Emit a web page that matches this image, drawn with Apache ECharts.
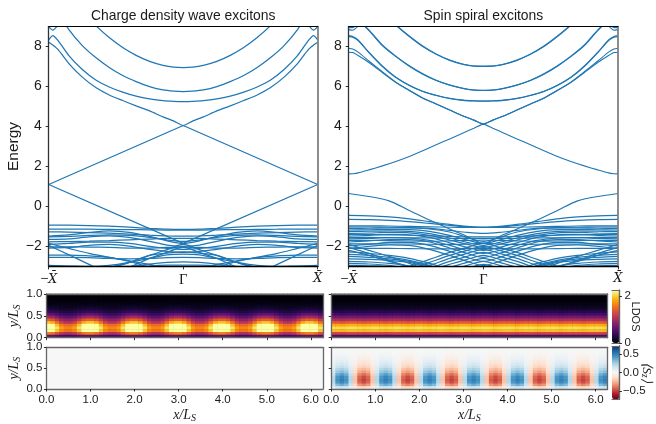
<!DOCTYPE html>
<html><head><meta charset="utf-8">
<style>html,body{margin:0;padding:0;background:#fff}#c{width:656px;height:424px}</style>
<script src="https://cdn.jsdelivr.net/npm/echarts@6/dist/echarts.min.js"></script>
</head><body><div id="c"></div>
<script>
// ---------- Band structures: half of the zone, -X to Gamma; the zone is mirror symmetric
const kEnds = [-1,0];
const kHigh = [-1,-.97,-.93,-.85,-.75,-.65,-.55,-.45,-.35,-.25,-.15,-.07,0];
const kLow  = [-1,-.85,-.7,-.55,-.4,-.25,-.12,0];

const cdwLines = [[1.1,4.05],[1.1,-1.85]];
const cdwHigh = [
 [8.22,8.08,7.85,7.15,6.47,5.95,5.58,5.3,5.03,4.78,4.48,4.27,4.05],
 [8.33,8.55,8.3,7.55,6.85,6.33,5.98,5.72,5.52,5.38,5.29,5.26,5.25],
 [10,10,9.7,8.85,8.05,7.45,6.95,6.55,6.25,6,5.83,5.77,5.75],
 [12,12,12,11,9.75,9.05,8.45,7.95,7.56,7.26,7.06,6.97,6.95],
 [9,8.82,9.1,10,11,12,13,13,13,13,13,13,13]
];
const cdwLow = [
 [-.93,-.94,-.96,-.99,-1.04,-1.1,-1.14,-1.15],
 [-1.13,-1.13,-1.14,-1.15,-1.16,-1.17,-1.18,-1.18],
 [-1.27,-1.28,-1.31,-1.34,-1.39,-1.44,-1.47,-1.48],
 [-1.48,-1.42,-1.3,-1.22,-1.3,-1.5,-1.72,-1.85],
 [-1.65,-1.62,-1.52,-1.47,-1.55,-1.75,-1.93,-2],
 [-1.52,-1.5,-1.45,-1.42,-1.45,-1.55,-1.68,-1.75],
 [-1.77,-1.76,-1.74,-1.71,-1.67,-1.63,-1.6,-1.6],
 [-1.9,-1.85,-1.78,-1.78,-1.85,-2,-2.1,-2.15],
 [-2.02,-2.02,-2.03,-2.05,-2.08,-2.08,-2.05,-2.03],
 [-2.08,-2.05,-1.95,-1.9,-1.98,-2.15,-2.25,-2.3],
 [-1.95,-2.42,-2.9,-3.4,-3.9,-4.3,-4.7,-5],
 [-1.85,-2.1,-2.35,-2.55,-2.72,-2.9,-3.1,-3.3],
 [-4.3,-3.9,-3.5,-3.12,-2.8,-2.45,-2.16,-1.9],
 [-4.4,-4,-3.6,-3.3,-3.03,-2.6,-2.3,-2.05],
 [-2.43,-2.44,-2.47,-2.55,-2.75,-3.05,-3.3,-3.4],
 [-2.55,-2.55,-2.56,-2.6,-2.62,-2.6,-2.56,-2.55],
 [-2.97,-2.98,-3,-2.95,-2.8,-2.6,-2.42,-2.38],
 [-2.95,-3,-3.02,-3.02,-3,-2.97,-2.94,-2.93],
 [-3.3,-3.3,-3.2,-3.05,-2.8,-2.45,-2.33,-2.27],
 [-3.3,-3.3,-3.3,-3.2,-3.02,-2.88,-2.8,-2.77]
];
const spiralHigh = [
 [1.63,1.64,1.68,1.83,2.03,2.25,2.5,2.79,3.09,3.38,3.68,3.91,4.12],
 [7.72,7.7,7.55,7.2,6.7,6.2,5.8,5.42,5.13,4.83,4.53,4.32,4.12],
 [7.92,7.88,7.72,7.28,6.74,6.22,5.81,5.43,5.13,4.83,4.53,4.32,4.13],
 [8.5,8.47,8.3,7.7,7,6.45,6.05,5.75,5.55,5.4,5.31,5.28,5.27],
 [8.55,8.5,8.33,7.72,7.03,6.47,6.07,5.77,5.56,5.41,5.32,5.29,5.28],
 [9.5,9.4,9.3,8.8,8.05,7.5,7.02,6.62,6.3,6.07,5.9,5.82,5.8],
 [9.55,9.45,9.33,8.84,8.08,7.52,7.04,6.64,6.32,6.08,5.91,5.83,5.81],
 [12,12,12,11,9.8,9.07,8.5,8,7.61,7.31,7.11,7.02,7],
 [12,12,12,11,9.83,9.1,8.53,8.03,7.63,7.33,7.12,7.03,7.02],
 [8.85,8.82,9.05,10,11,12,13,13,13,13,13,13,13],
 [8.95,8.95,9.2,10,11,12,13,13,13,13,13,13,13]
];
const spiralLow = [
 [.65,.5,.28,-.2,-.68,-1.13,-1.5,-1.85],
 [-.45,-.47,-.52,-.62,-.76,-.9,-1,-1.05],
 [-.65,-.66,-.7,-.76,-.85,-.95,-1.02,-1.05],
 [-.97,-.97,-.98,-1,-1.02,-1.04,-1.05,-1.05],
 [-1.03,-1.03,-1.04,-1.06,-1.1,-1.2,-1.3,-1.35],
 [-1.1,-1.09,-1.08,-1.08,-1.13,-1.28,-1.55,-1.75],
 [-1.18,-1.17,-1.15,-1.16,-1.25,-1.45,-1.68,-1.85],
 [-1.25,-1.24,-1.22,-1.25,-1.36,-1.58,-1.8,-1.95],
 [-1.35,-1.33,-1.3,-1.32,-1.45,-1.68,-1.9,-2.05],
 [-1.48,-1.45,-1.4,-1.42,-1.55,-1.82,-2.05,-2.2],
 [-1.62,-1.6,-1.56,-1.58,-1.7,-1.95,-2.2,-2.35],
 [-1.78,-1.72,-1.66,-1.66,-1.78,-2.08,-2.35,-2.55],
 [-1.97,-1.9,-1.8,-1.8,-1.95,-2.25,-2.55,-2.75],
 [-2.1,-2,-1.92,-1.95,-2.15,-2.45,-2.75,-2.95],
 [-1.4,-1.4,-1.42,-1.44,-1.47,-1.5,-1.52,-1.52],
 [-1.55,-1.55,-1.56,-1.57,-1.58,-1.59,-1.6,-1.6],
 [-1.7,-1.7,-1.71,-1.73,-1.74,-1.72,-1.7,-1.68],
 [-1.87,-1.87,-1.88,-1.88,-1.89,-1.9,-1.88,-1.85],
 [-2.1,-2.1,-2.1,-2.11,-2.12,-2.12,-2.1,-2.1],
 [-1.9,-2.2,-2.5,-2.85,-3.2,-3.6,-4,-4.3],
 [-2.05,-2.35,-2.7,-3.05,-3.4,-3.8,-4.2,-4.5],
 [-2.2,-2.45,-2.75,-3,-3.3,-3.6,-4,-4.3],
 [-2.27,-2.35,-2.45,-2.6,-2.85,-3.15,-3.4,-3.6],
 [-2.4,-2.45,-2.55,-2.7,-2.95,-3.3,-3.6,-3.8],
 [-2.5,-2.55,-2.62,-2.75,-3,-3.3,-3.6,-3.8],
 [-2.62,-2.65,-2.7,-2.8,-3.05,-3.3,-3.6,-3.8],
 [-2.75,-2.78,-2.85,-2.98,-3.2,-3.5,-3.8,-4],
 [-2.85,-2.88,-2.95,-3.1,-3.3,-3.6,-3.8,-4],
 [-2.95,-2.97,-3,-3.1,-3.3,-3.6,-3.8,-4],
 [-4.2,-3.75,-3.3,-3,-2.65,-2.3,-2.05,-1.85],
 [-4.4,-3.9,-3.5,-3.15,-2.8,-2.45,-2.2,-2],
 [-4.5,-4,-3.6,-3.25,-2.95,-2.6,-2.35,-2.15],
 [-4.6,-4.2,-3.8,-3.45,-3.1,-2.75,-2.5,-2.3],
 [-4.7,-4.3,-3.9,-3.55,-3.2,-2.9,-2.65,-2.45],
 [-4.8,-4.4,-4,-3.65,-3.35,-3.05,-2.8,-2.6],
 [-4.9,-4.5,-4.1,-3.8,-3.5,-3.2,-2.95,-2.75],
 [-5,-4.6,-4.2,-3.9,-3.6,-3.35,-3.1,-2.9]
];

// ---------- Heat maps: one period, rows from y=1 (top) to y=0
const ldosCdwPeriod = [
 [.01,.01,.01,.01,.01,.01,.01,.01,.01,.01],
 [.02,.02,.02,.02,.02,.02,.02,.02,.02,.02],
 [.04,.04,.035,.03,.03,.03,.03,.035,.04,.04],
 [.07,.07,.065,.06,.06,.06,.06,.065,.07,.07],
 [.13,.125,.115,.105,.1,.1,.105,.115,.125,.13],
 [.22,.21,.19,.17,.16,.16,.17,.19,.21,.22],
 [.38,.36,.32,.28,.26,.26,.28,.32,.36,.38],
 [.62,.59,.51,.43,.4,.4,.43,.51,.59,.62],
 [.98,.92,.79,.66,.6,.6,.66,.79,.92,.98],
 [1.45,1.36,1.15,.94,.85,.85,.94,1.15,1.36,1.45],
 [1.95,1.82,1.52,1.23,1.1,1.1,1.23,1.52,1.82,1.95],
 [2.25,2.24,1.92,1.6,1.5,1.5,1.6,1.92,2.24,2.25],
 [2.25,2.25,2.1,1.78,1.65,1.65,1.78,2.1,2.25,2.25],
 [2.25,2.25,1.95,1.66,1.55,1.55,1.66,1.95,2.25,2.25],
 [1.6,1.52,1.33,1.13,1.05,1.05,1.13,1.33,1.52,1.6],
 [.6,.58,.53,.47,.45,.45,.47,.53,.58,.6]
];
const ldosSpiralPeriod = [
 [.01,.01,.01,.01,.01],[.02,.02,.02,.02,.02],[.03,.03,.03,.03,.03],[.06,.06,.06,.06,.06],
 [.1,.1,.1,.1,.1],[.17,.17,.16,.17,.17],[.3,.29,.28,.29,.3],[.48,.47,.45,.47,.48],
 [.74,.72,.7,.72,.74],[1.05,1.03,1,1.03,1.05],[1.42,1.4,1.36,1.4,1.42],[1.85,1.83,1.8,1.83,1.85],
 [2.08,2.06,2.03,2.06,2.08],[1.92,1.9,1.87,1.9,1.92],[1.27,1.25,1.22,1.25,1.27],[.5,.5,.49,.5,.5]
];
const szCdwPeriod = [[0]];
const szSpiralPeriod = [
 [.002,.004,.005,.004,.002,-.002,-.004,-.005,-.004,-.002],
 [.004,.009,.01,.009,.004,-.004,-.009,-.01,-.009,-.004],
 [.008,.018,.02,.018,.008,-.008,-.018,-.02,-.018,-.008],
 [.015,.031,.035,.031,.015,-.015,-.031,-.035,-.031,-.015],
 [.023,.048,.055,.048,.023,-.023,-.048,-.055,-.048,-.023],
 [.034,.07,.08,.07,.034,-.034,-.07,-.08,-.07,-.034],
 [.05,.106,.12,.106,.05,-.05,-.106,-.12,-.106,-.05],
 [.071,.15,.17,.15,.071,-.071,-.15,-.17,-.15,-.071],
 [.099,.207,.235,.207,.099,-.099,-.207,-.235,-.207,-.099],
 [.13,.273,.31,.273,.13,-.13,-.273,-.31,-.273,-.13],
 [.168,.352,.4,.352,.168,-.168,-.352,-.4,-.352,-.168],
 [.2,.418,.475,.418,.2,-.2,-.418,-.475,-.418,-.2],
 [.21,.44,.5,.44,.21,-.21,-.44,-.5,-.44,-.21],
 [.2,.418,.475,.418,.2,-.2,-.418,-.475,-.418,-.2],
 [.151,.317,.36,.317,.151,-.151,-.317,-.36,-.317,-.151],
 [.063,.132,.15,.132,.063,-.063,-.132,-.15,-.132,-.063]
];
const heatColumns = 63;

// ---------- Ticks and texts
const titles = ['Charge density wave excitons','Spin spiral excitons'];
const energyTicks = [-2,0,2,4,6,8];
const kTicks = [-1,0,1];
const xTicks = [0,1,2,3,4,5,6];
const yTicks = [0,.5,1];
const ldosTicks = [0,2];
const szTicks = [-.5,0,.5];

// ---------- Colour maps
const inferno = ['#000004','#160b39','#420a68','#6a176e','#932667','#bc3754','#dd513a','#f37819','#fca50a','#f6d746','#fcffa4'];
const rdbu = ['#67001f','#b2182b','#d6604d','#f4a582','#fddbc7','#f7f7f7','#d1e5f0','#92c5de','#4393c3','#2166ac','#053061'];

const sans = 'Liberation Sans', serif = 'Liberation Serif', ink = '#1a1a1a', frameGrey = '#666';
const mirror = (ks, es) => ks.map((k,i)=>[k,es[i]]).concat(ks.slice(0,-1).reverse().map(k=>[-k,es[ks.indexOf(k)]]));
const minus = s => String(s).replace('-','\u2212');

const plain = {show:false};
const backed = c => ({show:true,backgroundColor:c,borderWidth:0});
const grids = [
 {left:48.7,top:26.6,width:269,height:239.8,...plain},
 {left:348.7,top:26.6,width:269.3,height:239.8,...plain},
 {left:46.4,top:294,width:276.4,height:43.7,...backed('#000004')},
 {left:331.2,top:294,width:276.4,height:43.7,...backed('#000004')},
 {left:46.4,top:347.3,width:276.4,height:43.7,...backed('#f6f6f6')},
 {left:331.2,top:347.3,width:276.4,height:43.7,...backed('#f6f6f6')},
 {left:612,top:290,width:7.4,height:53,...plain},
 {left:612,top:345.8,width:7.4,height:53.5,...plain}
];

const xAxes = [], yAxes = [];
const line = (color,width)=>({show:true,onZero:false,lineStyle:{color,width}});
const labelStyle = (fontSize,margin)=>({color:ink,fontFamily:sans,fontSize,margin});
const tick = (customValues,length=3)=>({show:true,length,customValues,lineStyle:{color:ink,width:.9}});
const frameX = (gridIndex,min,max,color,width)=>xAxes.push({type:'value',gridIndex,min,max,position:'top',z:5,axisLine:line(color,width),axisTick:{show:false},axisLabel:{show:false},splitLine:{show:false}});
const frameY = (gridIndex,min,max,color,width)=>yAxes.push({type:'value',gridIndex,min,max,position:'right',z:5,axisLine:line(color,width),axisTick:{show:false},axisLabel:{show:false},splitLine:{show:false}});

const mathName = (a)=>`{i|${a}/L}{s|S}`;
const mathRich = {i:{fontFamily:serif,fontStyle:'italic',fontSize:14,color:ink,lineHeight:16,verticalAlign:'middle'},
                  s:{fontFamily:serif,fontStyle:'italic',fontSize:10,color:ink,lineHeight:16,verticalAlign:'bottom',padding:[5,0,0,0]}};

// band panels: axes 0,1
[0,1].forEach(g=>{
  xAxes.push({type:'value',gridIndex:g,min:-1,max:1,position:'bottom',z:5,axisLine:line('#000',1.4),
    axisTick:tick(kTicks),
    axisLabel:{customValues:kTicks,margin:6,hideOverlap:false,color:ink,
      formatter:v=>v===0?'{g|\u0393}':(v<0?'{m|\u2212}{x|X\u0304}':'{x|X\u0304}'),
      rich:{g:{fontFamily:serif,fontSize:14.5,color:ink},m:{fontFamily:sans,fontSize:14,color:'#444'},x:{fontFamily:'DejaVu Serif',fontStyle:'italic',fontSize:12.5,color:ink}}},
    splitLine:{show:false}});
  yAxes.push({type:'value',gridIndex:g,min:-3,max:9,position:'left',z:5,axisLine:line('#333',1.3),
    axisTick:tick(energyTicks),
    axisLabel:{...labelStyle(14,7),customValues:energyTicks,formatter:minus},
    splitLine:{show:false},
    name:g===0?'Energy':'',nameLocation:'middle',nameRotate:90,nameGap:27,
    nameTextStyle:{fontFamily:sans,fontSize:15.5,color:ink}});
});
// heat panels: axes 2..5
[2,3,4,5].forEach(g=>{
  const bottom = g>=4, left = g%2===0;
  xAxes.push({type:'value',gridIndex:g,min:0,max:6.27,position:'bottom',z:5,axisLine:line(frameGrey,1.3),
    axisTick:tick(xTicks,2.5),
    axisLabel:{...labelStyle(11.5,5),show:bottom,customValues:xTicks,formatter:v=>v.toFixed(1)},
    splitLine:{show:false},
    name:bottom?mathName('x'):'',nameLocation:'middle',nameGap:18,nameTextStyle:{rich:mathRich}});
  yAxes.push({type:'value',gridIndex:g,min:0,max:1,position:'left',z:5,axisLine:line(frameGrey,1.3),
    axisTick:tick(yTicks,2.5),
    axisLabel:{...labelStyle(11.5,4),show:left,customValues:yTicks,formatter:v=>v.toFixed(1)},
    splitLine:{show:false},
    name:left?mathName('y'):'',nameLocation:'middle',nameRotate:90,nameGap:23,nameTextStyle:{rich:mathRich}});
});
// colour bars: axes 6,7
[[6,0,2.25,ldosTicks,'LDOS',v=>String(v),5,15.5],
 [7,-.72,.72,szTicks,'{a|\u27E8S}{b|z}{a|\u27E9}',v=>minus(v.toFixed(1)),3.5,27.5]].forEach(([g,min,max,ticks,name,fmt,margin,gap])=>{
  xAxes.push({type:'value',gridIndex:g,min:0,max:1,position:'bottom',z:5,axisLine:line(frameGrey,1.2),axisTick:{show:false},axisLabel:{show:false},splitLine:{show:false}});
  yAxes.push({type:'value',gridIndex:g,min,max,position:'right',z:5,axisLine:line(frameGrey,1.2),
    axisTick:tick(ticks,2.5),
    axisLabel:{...labelStyle(11.5,margin),align:'left',customValues:ticks,formatter:fmt,hideOverlap:false},
    splitLine:{show:false},
    name,nameLocation:'middle',nameRotate:-90,nameGap:gap,nameMoveOverlap:false,
    nameTextStyle:{align:'center',verticalAlign:'middle',fontFamily:sans,fontSize:11,color:ink,rich:{
      a:{fontFamily:serif,fontStyle:'italic',fontSize:13.5,color:ink,lineHeight:14},
      b:{fontFamily:serif,fontStyle:'italic',fontSize:9.5,color:ink,lineHeight:14,verticalAlign:'bottom'}}}});
});
// frames on the remaining sides
[0,1].forEach(g=>{frameX(g,-1,1,'#000',1.2);frameY(g,-3,9,'#808080',1.8);});
[2,3,4,5].forEach(g=>{frameX(g,0,6.27,frameGrey,1.3);frameY(g,0,1,frameGrey,1.3);});
[6,7].forEach(g=>{frameX(g,0,1,frameGrey,1.2);frameY(g,0,1,frameGrey,1.2);});

// category axes carrying the heat cells
function addHeat(g,period,columns){
  const rows = period.length, cols = columns;
  const xi = xAxes.length, yi = yAxes.length;
  xAxes.push({type:'category',gridIndex:g,show:false,data:Array.from({length:cols},(_,i)=>i)});
  yAxes.push({type:'category',gridIndex:g,show:false,data:Array.from({length:rows},(_,i)=>i)});
  const data = [];
  for(let c=0;c<cols;c++) for(let r=0;r<rows;r++) data.push([c,rows-1-r,period[r][c%period[r].length]]);
  return {type:'heatmap',xAxisIndex:xi,yAxisIndex:yi,data,silent:true,progressive:0,emphasis:{disabled:true},itemStyle:{borderWidth:0}};
}
const series = [
 addHeat(2,ldosCdwPeriod,heatColumns),
 addHeat(3,ldosSpiralPeriod,heatColumns),
 addHeat(4,szCdwPeriod,1),
 addHeat(5,szSpiralPeriod,heatColumns)
];
function addBands(g,ks,bands,smooth,width){
  bands.forEach(b=>series.push({type:'line',xAxisIndex:g,yAxisIndex:g,data:mirror(ks,b),showSymbol:false,symbol:'none',silent:true,
    smooth,clip:true,z:3,lineStyle:{color:'#1f77b4',width}}));
}
addBands(0,kEnds,cdwLines,false,1.25); addBands(0,kHigh,cdwHigh,.2,1.25); addBands(0,kLow,cdwLow,.3,1.25);
addBands(1,kHigh,spiralHigh,.2,1.1); addBands(1,kLow,spiralLow,.3,1.15);

const bar = (seriesIndex,min,max,color,top,itemHeight)=>({type:'continuous',seriesIndex,dimension:2,min,max,calculable:false,show:true,
  left:612,top,itemWidth:7.4,itemHeight,padding:0,text:null,inRange:{color},z:2,hoverLink:false,textStyle:{fontSize:0}});

const chart = echarts.init(document.getElementById('c'),null,{renderer:'canvas'});
chart.setOption({
  animation:false,backgroundColor:'#fff',
  title:titles.map((text,i)=>({text,left:i?483.4:183.2,top:9,textAlign:'center',padding:0,
    textStyle:{fontFamily:sans,fontSize:13.9,fontWeight:'normal',color:ink}})),
  grid:grids,xAxis:xAxes,yAxis:yAxes,series,
  visualMap:[bar([0,1],0,2.25,inferno,290,53),bar([2,3],-.72,.72,rdbu,345.8,53.5)],
  tooltip:{show:false}
});
</script></body></html>
